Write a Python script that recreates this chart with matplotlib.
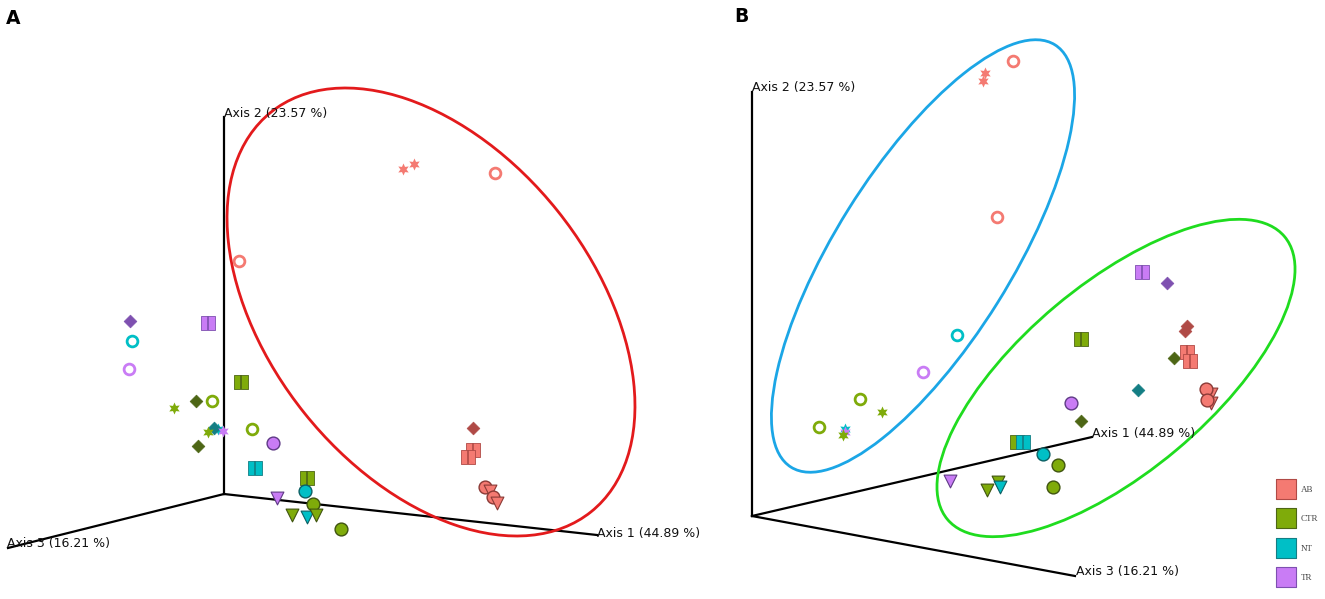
import numpy as np
import matplotlib
matplotlib.use("Agg")
import matplotlib.pyplot as plt
from matplotlib.patches import Ellipse

# groups and colours
groups = ['AB', 'CTR', 'NT', 'TR']
base = {'AB': '#f47a72', 'CTR': '#7fab0a', 'NT': '#00bfc6', 'TR': '#c97cf5'}
dark = {'AB': '#b04a46', 'CTR': '#4d6615', 'NT': '#147e84', 'TR': '#7e50b0'}
edge = {'AB': '#8a3a36', 'CTR': '#3f5410', 'NT': '#0d5f63', 'TR': '#5e3a85'}

axis_labels = ['Axis 1 (44.89 %)', 'Axis 2 (23.57 %)', 'Axis 3 (16.21 %)']

# panel A: projected sample coordinates (screen units)
a_group = ['AB', 'AB', 'AB', 'AB',
           'TR', 'NT', 'TR', 'TR', 'CTR', 'CTR', 'CTR', 'CTR', 'NT', 'NT', 'CTR', 'TR',
           'CTR', 'CTR', 'TR', 'NT', 'CTR', 'NT', 'TR', 'CTR', 'CTR', 'NT', 'CTR', 'CTR',
           'AB', 'AB', 'AB', 'AB', 'AB', 'AB', 'AB']
a_shape = ['star', 'star', 'ring', 'ring',
           'dia', 'ring', 'ring', 'sq', 'sq', 'star', 'dia', 'ring', 'star', 'dia', 'star', 'star',
           'dia', 'ring', 'dot', 'sq', 'sq', 'dot', 'tri', 'dot', 'tri', 'tri', 'tri', 'dot',
           'dia', 'sq', 'sq', 'dot', 'tri', 'dot', 'tri']
a_x = [403, 414, 495, 239,
       130, 132, 129, 208, 241, 174, 196, 212, 218, 214, 208, 223,
       198, 252, 273, 255, 307, 305, 277, 313, 292, 307, 316, 341,
       473, 473, 468, 485, 490, 493, 497]
a_y = [169, 164, 173, 261,
       321, 341, 369, 323, 382, 408, 401, 401, 429, 428, 432, 431,
       446, 429, 443, 468, 478, 491, 498, 504, 515, 517, 515, 529,
       428, 450, 457, 487, 491, 497, 503]

# panel B
b_group = ['AB', 'AB', 'AB', 'AB',
           'NT', 'TR', 'CTR', 'CTR', 'CTR', 'NT', 'TR', 'CTR',
           'CTR', 'NT', 'NT', 'CTR', 'CTR', 'TR', 'CTR', 'CTR', 'NT',
           'CTR', 'TR', 'TR', 'TR', 'AB', 'AB', 'CTR', 'AB', 'AB', 'NT',
           'AB', 'AB', 'AB', 'AB', 'CTR']
b_shape = ['ring', 'star', 'star', 'ring',
           'ring', 'ring', 'ring', 'star', 'ring', 'star', 'star', 'star',
           'sq', 'sq', 'dot', 'dot', 'dot', 'tri', 'tri', 'tri', 'tri',
           'sq', 'dot', 'sq', 'dia', 'dia', 'dia', 'dia', 'sq', 'sq', 'dia',
           'tri', 'dot', 'tri', 'dot', 'dia']
b_x = [1013, 985, 983, 997,
       957, 923, 860, 882, 819, 845, 845, 843,
       1017, 1023, 1043, 1058, 1053, 950, 987, 998, 1000,
       1081, 1071, 1142, 1167, 1187, 1185, 1174, 1187, 1190, 1138,
       1211, 1206, 1211, 1207, 1081]
b_y = [61, 73, 81, 217,
       335, 372, 399, 412, 427, 429, 432, 435,
       442, 442, 454, 465, 487, 481, 490, 482, 487,
       339, 403, 272, 283, 326, 331, 358, 352, 361, 390,
       394, 389, 403, 400, 421]


def draw_point(ax, g, shape, x, y):
    if shape == 'star':
        ax.scatter(x, y, marker=(6, 1, 0), s=75, color=base[g], linewidths=0, zorder=3)
    elif shape == 'ring':
        ax.scatter(x, y, marker='o', s=60, facecolors='white', edgecolors=base[g],
                   linewidths=2, zorder=3)
    elif shape == 'dia':
        ax.scatter(x, y, marker='D', s=42, color=dark[g], edgecolors=dark[g],
                   linewidths=0.5, zorder=3)
    elif shape == 'sq':
        ax.scatter(x, y, marker='s', s=95, color=base[g], edgecolors=dark[g],
                   linewidths=0.6, zorder=3)
        ax.scatter(x, y, marker='|', s=90, color=dark[g], linewidths=1.2, zorder=3)
    elif shape == 'dot':
        ax.scatter(x, y, marker='o', s=85, color=base[g], edgecolors=edge[g],
                   linewidths=1.0, zorder=3)
    elif shape == 'tri':
        ax.scatter(x, y, marker='v', s=85, color=base[g], edgecolors=edge[g],
                   linewidths=0.8, zorder=3)


def draw_axes(ax, origin, ends, label_pos):
    for (ex, ey), lab, (tx, ty) in zip(ends, axis_labels, label_pos):
        ax.plot([origin[0], ex], [origin[1], ey], color='black', lw=1.6, zorder=1)
        ax.text(tx, ty, lab, fontsize=9, ha='left', va='center', color='#111111', zorder=4)


fig = plt.figure(figsize=(13.25, 5.99), dpi=100)
ax = fig.add_axes([0, 0, 1, 1])
ax.set_xlim(0, 1325)
ax.set_ylim(599, 0)
ax.set_aspect('equal')
ax.axis('off')

# panel A
draw_axes(ax, (224, 494), [(597, 535), (224, 117), (8, 548)],
          [(597, 533), (224, 113), (7, 544)])
ax.add_patch(Ellipse((431, 312), 2 * 256, 2 * 162, angle=51.3, fill=False,
                     edgecolor='#e31a1c', lw=2, zorder=2))
for g, sh, x, y in zip(a_group, a_shape, a_x, a_y):
    draw_point(ax, g, sh, x, y)

# panel B
draw_axes(ax, (752, 516), [(1092, 437), (752, 92), (1075, 576)],
          [(1092, 433), (752, 88), (1076, 572)])
ax.add_patch(Ellipse((923, 256), 2 * 249, 2 * 88, angle=-58, fill=False,
                     edgecolor='#1ba6e6', lw=2, zorder=2))
ax.add_patch(Ellipse((1116, 378), 2 * 220, 2 * 94, angle=-40, fill=False,
                     edgecolor='#1fdc1f', lw=2, zorder=2))
for g, sh, x, y in zip(b_group, b_shape, b_x, b_y):
    draw_point(ax, g, sh, x, y)

# legend
for i, g in enumerate(groups):
    ly = 489 + i * 29.3
    ax.scatter(1286, ly, marker='s', s=190, color=base[g], edgecolors=dark[g],
               linewidths=0.8, zorder=3)
    ax.text(1301, ly + 1, g, fontsize=6.5, family='Liberation Serif', ha='left',
            va='center', color='#444444')

ax.text(6, 18, 'A', fontsize=13.5, fontweight='bold', ha='left', va='center')
ax.text(734, 16, 'B', fontsize=13.5, fontweight='bold', ha='left', va='center')

fig.savefig('out.png', dpi=100)
